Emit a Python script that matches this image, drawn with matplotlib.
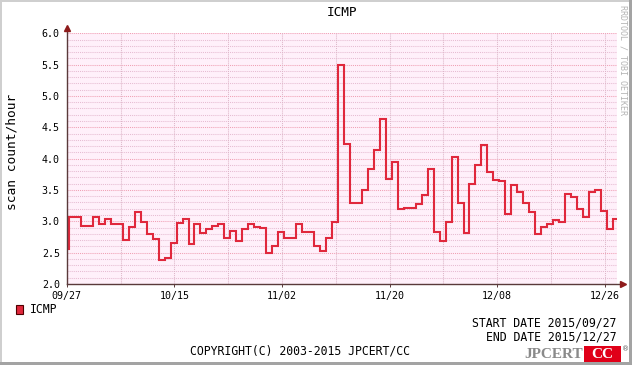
import matplotlib
matplotlib.use('Agg')
import matplotlib.pyplot as plt
import matplotlib.dates as mdates
from matplotlib.patches import Rectangle
from matplotlib.ticker import MultipleLocator, FixedLocator, FuncFormatter
import pandas as pd

W, H = 632, 365

# ---------------- data ----------------
title = "ICMP"
ylabel = "scan count/hour"
series_name = "ICMP"
first_sample = "2015-09-26 09:00"   # daily samples (value holds for one day)
values = [2.56,
          3.06, 3.06, 2.93, 2.93, 3.06, 2.96, 3.04, 2.95, 2.95, 2.70,
          2.91, 3.14, 2.99, 2.79, 2.71, 2.38, 2.42, 2.66, 2.98, 3.04,
          2.63, 2.96, 2.82, 2.88, 2.93, 2.96, 2.74, 2.85, 2.69, 2.88,
          2.95, 2.91, 2.89, 2.50, 2.61, 2.83, 2.74, 2.73, 2.96, 2.83,
          2.83, 2.61, 2.53, 2.74, 2.99, 5.50, 4.24, 3.29, 3.29, 3.50,
          3.84, 4.13, 4.64, 3.68, 3.94, 3.19, 3.21, 3.21, 3.28, 3.42,
          3.84, 2.83, 2.69, 2.99, 4.02, 3.29, 2.82, 3.60, 3.90, 4.21,
          3.78, 3.66, 3.65, 3.12, 3.58, 3.46, 3.29, 3.15, 2.80, 2.91,
          2.96, 3.02, 2.99, 3.44, 3.38, 3.19, 3.07, 3.47, 3.50, 3.17,
          2.88, 3.04]
x_start = "2015-09-27"
x_end = "2015-12-28"
x_labels = ["09/27", "10/15", "11/02", "11/20", "12/08", "12/26"]
y_ticks = [2.0, 2.5, 3.0, 3.5, 4.0, 4.5, 5.0, 5.5, 6.0]
start_label = "START DATE 2015/09/27"
end_label = "END DATE 2015/12/27"
copyright_text = "COPYRIGHT(C) 2003-2015 JPCERT/CC"
credit = "RRDTOOL / TOBI OETIKER"

# ---------------- styling ----------------
LINE = '#E0283C'
BG = '#FFF0FA'
AXC = '#5A3A3A'
ARROW = '#8E1B1B'
MONO = 'DejaVu Sans Mono'

fig = plt.figure(figsize=(W / 100, H / 100), dpi=100)
fig.patch.set_facecolor('white')


def fx(x):
    return x / W


def fy(y):
    return 1 - y / H


L, R, T, B = 66.7, 616.7, 33.3, 283.9
ax = fig.add_axes([fx(L), fy(B), (R - L) / W, (B - T) / H])
ax.set_facecolor(BG)

dates = pd.date_range(first_sample, periods=len(values), freq='D')
xs = list(dates) + [dates[-1] + pd.Timedelta(days=1)]
ys = list(values) + [values[-1]]
ax.step(xs, ys, where='post', color=LINE, lw=1.5, zorder=3,
        solid_joinstyle='miter')

ax.set_xlim(pd.Timestamp(x_start), pd.Timestamp(x_end))
ax.set_ylim(y_ticks[0], y_ticks[-1])

# grids
for v in [round(2.0 + 0.1 * i, 1) for i in range(41)]:
    if abs(v * 2 - round(v * 2)) < 1e-6:
        ax.axhline(v, color='#F0A0B4', lw=0.75, ls=(0, (1, 1)), zorder=1)
    else:
        ax.axhline(v, color='#E6BCD2', lw=0.75, ls=(0, (1, 1)), zorder=1)
grid_days = pd.date_range(x_start, x_end, freq='9D')
for d in grid_days[1:]:
    ax.axvline(d, color='#DDB6C8', lw=0.75, ls=(0, (1, 1)), zorder=1)

tick_pos = [pd.Timestamp(x_start) + pd.Timedelta(days=18 * i) for i in range(len(x_labels))]
ax.set_xticks(tick_pos)
ax.set_xticklabels(x_labels)
ax.set_yticks(y_ticks)
ax.yaxis.set_major_formatter(FuncFormatter(lambda v, p: f"{v:.1f}"))
ax.tick_params(axis='x', length=2, width=0.7, color=AXC, pad=3,
               labelsize=7.2, labelcolor='black')
ax.tick_params(axis='y', length=0, pad=5, labelsize=7.2, labelcolor='black')
for lab in ax.get_xticklabels() + ax.get_yticklabels():
    lab.set_fontfamily(MONO)

for s in ['top', 'right', 'left', 'bottom']:
    ax.spines[s].set_visible(False)

# axis lines with arrows
ax.plot([0, 0], [0, 1 + 4 / (B - T)], transform=ax.transAxes, color=AXC,
        lw=1.0, clip_on=False, zorder=4)
ax.plot([0, 1 + 5 / (R - L)], [0, 0], transform=ax.transAxes, color=AXC,
        lw=1.0, clip_on=False, zorder=4)
ax.plot([0], [1 + 5 / (B - T)], marker='^', ms=4.5, color=ARROW,
        transform=ax.transAxes, clip_on=False, zorder=5)
ax.plot([1 + 6 / (R - L)], [0], marker='>', ms=4.5, color=ARROW,
        transform=ax.transAxes, clip_on=False, zorder=5)

# texts
fig.text(fx(342), fy(13), title, ha='center', va='center', fontsize=9.2,
         family=MONO)
fig.text(fx(12), fy(152), ylabel, ha='center', va='center', rotation=90,
         fontsize=9.3, family=MONO)
fig.text(fx(623), fy(60), credit, ha='center', va='center', rotation=-90,
         fontsize=6, family=MONO, color='#B4B4B4')

fig.patches.append(Rectangle((fx(15.5), fy(314)), 7 / W, 9 / H,
                             transform=fig.transFigure, facecolor=LINE,
                             edgecolor='#500000', lw=0.8))
fig.text(fx(30), fy(309.5), series_name, ha='left', va='center',
         fontsize=8.3, family=MONO)
fig.text(fx(616.5), fy(323.5), start_label, ha='right', va='center',
         fontsize=8.3, family=MONO)
fig.text(fx(616.5), fy(337), end_label, ha='right', va='center',
         fontsize=8.3, family=MONO)
fig.text(fx(300), fy(351.5), copyright_text, ha='center', va='center',
         fontsize=8.3, family=MONO)

# logo
fig.text(fx(583), fy(354.5), "JPCERT", ha='right', va='center',
         fontsize=11, family='Liberation Serif', weight='bold',
         color='#8A8A8A')
fig.patches.append(Rectangle((fx(584), fy(362)), 37 / W, 16 / H,
                             transform=fig.transFigure, facecolor='#E00018',
                             edgecolor='none'))
fig.text(fx(602.5), fy(354.5), "CC", ha='center', va='center',
         fontsize=11, family='Liberation Serif', weight='bold',
         color='white')
fig.text(fx(626), fy(349), "\u00ae", ha='center', va='center',
         fontsize=5, family='DejaVu Sans', color='#555555')

# border
fig.patches.append(Rectangle((0, fy(2)), 1, 2 / H, transform=fig.transFigure,
                             facecolor='#CFCFCF', edgecolor='none'))
fig.patches.append(Rectangle((0, 0), 2 / W, 1, transform=fig.transFigure,
                             facecolor='#CFCFCF', edgecolor='none'))
fig.patches.append(Rectangle((1 - 3 / W, 0), 3 / W, 1, transform=fig.transFigure,
                             facecolor='#A3A3A3', edgecolor='none'))
fig.patches.append(Rectangle((0, 0), 1, 3 / H, transform=fig.transFigure,
                             facecolor='#A3A3A3', edgecolor='none'))

fig.savefig('out.png', dpi=100, facecolor='white')
